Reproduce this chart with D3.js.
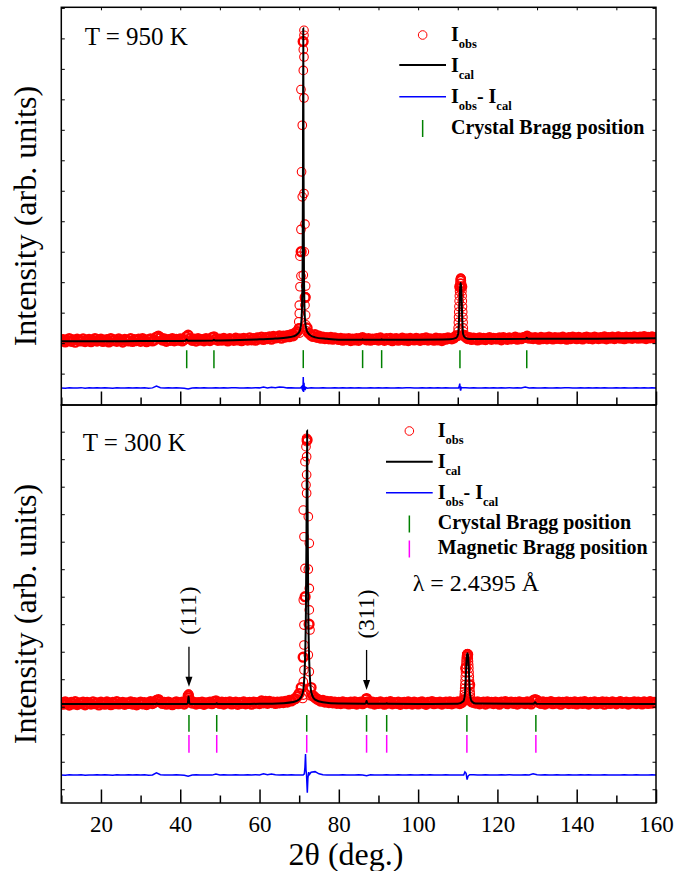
<!DOCTYPE html>
<html>
<head>
<meta charset="utf-8">
<script src="https://cdn.jsdelivr.net/npm/d3@7"></script>
<style>
  body { margin: 0; background: #fff; }
  text { font-family: "Liberation Serif", "Times New Roman", serif; }
</style>
</head>
<body>
<svg id="chart" width="676" height="871"></svg>
<script>
// ---- data (intensity in arbitrary counts) ----
const bgStep = 0.5; // observed background listed every 0.5 deg from 10 to 160

// T = 950 K
const obsBg950 = [
  80,120,40,95,150,60,110,30,130,85,70,140,50,100,125,45,90,150,65,105,
  135,55,95,120,40,150,80,110,60,140,90,35,125,100,70,145,55,115,85,130,
  60,150,95,45,120,140,70,105,200,230,180,100,140,60,115,90,150,75,125,95,
  140,70,120,210,260,150,90,135,65,145,100,120,75,150,110,85,180,210,130,90,
  130,95,155,110,70,145,120,90,165,105,140,80,160,125,100,175,110,150,95,170,
  140,200,120,185,150,210,130,220,170,190,240,160,230,200,250,210,280,240,330,380,
  480,3000,9900,1500,500,320,260,220,280,190,230,160,200,150,180,140,190,130,170,150,
  120,160,95,140,115,150,85,130,105,145,90,155,180,140,110,150,95,135,120,150,
  100,170,120,90,145,115,160,80,135,150,95,125,165,100,140,85,155,120,105,160,
  130,90,150,115,170,100,140,125,95,165,110,150,85,145,130,175,160,140,170,230,
  250,1850,1850,260,200,150,180,120,165,140,105,175,130,160,115,150,185,125,155,140,
  140,170,110,185,150,125,175,140,160,195,130,165,145,180,190,230,160,175,150,185,
  160,130,190,150,175,140,200,165,135,185,155,170,145,195,160,130,180,150,200,170,
  145,190,165,135,180,200,155,175,140,195,170,150,185,160,205,140,180,165,195,150,
  175,205,160,185,145,200,170,190,155,210,180,160,195,170,215,150,190,175,205,165,
  190
];
const obsPeaks950 = [
  [71.21,10265],[71.21,10100],[71.04,9630],[71.21,9390],[71.04,8950],[70.45,8320],
  [71.21,8045],[70.78,7150],[70.6,5620],[71.21,4910],[70.78,4800],[71.46,3905],
  [70.45,3730],[71.3,2996],[70.2,2855],[71.04,2232],[70.45,2200],[71.63,1872],
  [70.2,1850],[71.63,1520],[70.03,1247],[71.46,1247],[70.03,974],[71.63,920],
  [69.9,700],[71.7,600],[69.95,495],[71.8,400],[70.1,330],
  [110.0,250],[110.05,380],[110.1,500],[110.15,680],[110.2,850],[110.25,1020],[110.3,1200],
  [110.35,1380],[110.4,1550],[110.45,1700],[110.5,1850],[110.55,1960],[110.6,2050],
  [110.65,2100],[110.7,2120],[110.75,2130],[110.8,2120],[110.85,2100],[110.9,2050],
  [110.95,1960],[111.0,1850],[111.05,1700],[111.1,1550],[111.15,1380],[111.2,1200],
  [111.25,1020],[111.3,850],[111.35,680],[111.4,500],[111.45,380],[111.5,250]
];
const cal950 = [
  [10,60],[20,62],[30,66],[34,70],[35,66],[40,72],[41.3,75],[41.6,120],[41.9,76],
  [48.2,85],[48.5,115],[48.8,86],[55,100],[60,125],[64,150],[67,185],[68.5,220],
  [69.5,290],[70.2,420],[70.6,800],[70.85,2200],[70.95,5500],[71.03,10330],[71.11,5500],
  [71.21,2200],[71.45,800],[71.9,420],[72.6,280],[74,190],[77,140],[80,110],
  [85.8,108],[86.0,130],[86.2,108],[90.6,110],[90.8,130],[91.0,110],[100,112],[108,125],
  [109.6,170],[110.1,300],[110.35,900],[110.5,1500],[110.62,1850],[110.73,1970],
  [110.84,1850],[110.96,1500],[111.1,900],[111.35,300],[111.9,170],[113,135],[120,135],
  [127.1,140],[127.4,175],[127.7,142],[140,145],[150,150],[160,157]
];
// difference curve listed every 1 deg from 10 to 160, plus detail around peaks
const diffBg950 = [
  -1470,-1480,-1465,-1475,-1470,-1460,-1478,-1468,-1472,-1462,
  -1475,-1465,-1470,-1480,-1462,-1470,-1476,-1466,-1470,-1460,
  -1472,-1466,-1478,-1468,-1410,-1462,-1474,-1468,-1470,-1464,
  -1470,-1478,-1505,-1472,-1466,-1474,-1468,-1470,-1476,-1462,
  -1470,-1465,-1475,-1468,-1462,-1474,-1470,-1466,-1472,-1460,
  -1468,-1440,-1470,-1445,-1466,-1440,-1450,-1468,-1462,-1470,
  -1478,-1470,-1485,-1465,-1470,-1472,-1466,-1470,-1474,-1468,
  -1470,-1464,-1474,-1468,-1472,-1462,-1476,-1470,-1466,-1472,
  -1468,-1474,-1464,-1470,-1476,-1466,-1472,-1468,-1462,-1470,
  -1474,-1466,-1470,-1462,-1476,-1468,-1472,-1466,-1470,-1474,
  -1470,-1470,-1468,-1472,-1466,-1470,-1476,-1464,-1470,-1468,
  -1474,-1466,-1470,-1462,-1476,-1468,-1472,-1440,-1470,-1466,
  -1470,-1474,-1464,-1470,-1476,-1466,-1472,-1468,-1462,-1470,
  -1474,-1466,-1470,-1462,-1476,-1468,-1472,-1466,-1470,-1474,
  -1468,-1472,-1466,-1470,-1476,-1464,-1470,-1468,-1474,-1466,
  -1470
];
const diffPeaks950 = [
  [70.3,-1472],[70.55,-1440],[70.75,-1500],[70.85,-1380],[70.95,-1560],[71.03,-1110],
  [71.12,-1600],[71.22,-1300],[71.32,-1545],[71.45,-1420],[71.6,-1500],[71.8,-1460],[72.05,-1478],
  [110.2,-1470],[110.4,-1400],[110.5,-1330],[110.62,-1500],[110.72,-1560],[110.9,-1450],[111.2,-1468]
];
const bragg950 = [41.63, 48.5, 71.03, 86.0, 90.8, 110.55, 127.4];

// T = 300 K
const obsBg300 = [
  150,90,175,120,60,160,105,185,80,140,115,170,70,155,130,95,180,110,145,65,
  165,125,90,175,140,75,155,110,185,100,130,160,85,145,120,175,95,150,70,135,
  170,105,150,80,140,185,115,160,230,260,190,120,155,90,170,130,75,145,180,110,
  140,165,95,175,400,240,130,160,95,150,120,170,85,145,130,165,110,190,215,150,
  120,170,95,155,135,180,100,145,165,85,150,125,175,105,140,160,90,170,130,150,
  115,210,140,200,125,195,150,170,120,165,140,180,150,200,170,230,210,260,290,370,
  480,700,1800,4000,9700,3000,700,400,330,280,240,200,230,170,200,150,185,140,170,125,
  160,115,175,130,150,100,165,120,180,95,145,170,110,155,300,180,130,165,95,150,
  120,175,140,90,160,130,185,105,150,125,170,85,145,160,110,180,135,95,165,140,
  100,155,175,120,85,160,140,190,110,150,130,170,95,145,165,120,180,105,155,135,
  175,115,150,250,1400,1900,800,180,160,130,175,105,150,165,95,180,135,155,115,170,
  140,90,165,150,185,110,145,170,125,160,95,180,135,150,115,175,140,100,220,260,
  230,150,120,175,95,160,140,185,110,150,130,170,90,155,145,180,115,160,125,175,
  100,150,170,120,185,135,95,160,145,175,110,150,130,180,90,165,140,120,175,150,
  105,160,185,125,145,170,95,150,135,180,115,165,140,100,175,150,120,185,130,160,
  140
];
const obsPeaks300 = [
  [41.9,200],[41.95,270],[42.0,330],[42.05,420],[42.1,460],[42.15,450],[42.2,380],[42.25,320],[42.3,250],
  [71.88,9760],[71.88,9636],[71.72,9455],[71.88,9090],[71.46,8910],[71.88,8430],
  [71.72,8060],[71.88,7760],[71.04,7150],[72.3,6910],[71.21,6180],[72.55,5940],
  [71.46,5030],[72.3,5000],[72.55,4300],[71.04,3880],[72.55,3520],[71.21,2970],
  [72.72,2790],[71.21,2245],[72.3,1880],[71.21,1335],[72.55,1270],[71.04,910],
  [72.72,610],[71.04,425],[72.8,400],[70.9,300],
  [86.8,180],[86.9,260],[86.95,285],[87.0,300],[87.05,295],[87.1,280],[87.2,200],
  [111.5,200],[111.55,270],[111.6,350],[111.65,450],[111.7,550],[111.75,670],[111.8,800],
  [111.85,950],[111.9,1100],[111.95,1250],[112.0,1400],[112.05,1530],[112.1,1650],
  [112.15,1740],[112.2,1820],[112.25,1870],[112.3,1900],[112.35,1915],[112.4,1920],
  [112.45,1915],[112.5,1900],[112.55,1870],[112.6,1820],[112.65,1740],[112.7,1650],
  [112.75,1530],[112.8,1400],[112.85,1250],[112.9,1100],[112.95,950],[113.0,800],
  [113.05,670],[113.1,550],[113.15,450],[113.2,350],[113.25,270],[113.3,200]
];
const cal300 = [
  [10,100],[33.8,100],[34.1,115],[34.4,100],[41.7,100],[41.9,130],[42.0,230],[42.05,320],
  [42.1,370],[42.15,320],[42.2,230],[42.3,130],[42.6,100],[48.9,100],[49.2,125],[49.5,100],
  [60,105],[66,130],[68.5,170],[70,260],[70.9,500],[71.4,1400],[71.7,3500],[71.85,6500],
  [72.0,10040],[72.15,6500],[72.3,3500],[72.6,1400],[73.1,500],[74,260],[76,160],[80,115],
  [86.6,110],[86.9,150],[87.0,220],[87.1,150],[87.4,110],[91.8,105],[92.1,125],[92.4,105],
  [100,100],[110,110],[111.4,200],[111.8,450],[112.0,1000],[112.15,1500],[112.3,1850],
  [112.45,1940],[112.6,1850],[112.75,1500],[112.9,1000],[113.1,450],[113.5,200],[114.5,120],
  [129.1,105],[129.5,160],[129.9,105],[160,100]
];
const diffBg300 = [
  -2480,-2490,-2475,-2485,-2478,-2470,-2488,-2478,-2482,-2472,
  -2485,-2475,-2480,-2490,-2472,-2480,-2486,-2476,-2480,-2470,
  -2482,-2476,-2488,-2478,-2400,-2472,-2484,-2478,-2480,-2474,
  -2480,-2488,-2525,-2482,-2476,-2484,-2478,-2480,-2486,-2450,
  -2480,-2475,-2485,-2478,-2472,-2484,-2480,-2476,-2482,-2470,
  -2478,-2440,-2470,-2445,-2476,-2480,-2470,-2478,-2472,-2480,
  -2486,-2480,-2480,-2380,-2360,-2440,-2470,-2480,-2484,-2478,
  -2480,-2474,-2484,-2478,-2482,-2472,-2486,-2510,-2476,-2482,
  -2478,-2484,-2474,-2480,-2486,-2476,-2482,-2478,-2472,-2480,
  -2484,-2476,-2480,-2472,-2486,-2478,-2482,-2476,-2480,-2484,
  -2480,-2480,-2478,-2482,-2476,-2480,-2486,-2474,-2480,-2478,
  -2484,-2476,-2480,-2472,-2486,-2478,-2482,-2476,-2480,-2440,
  -2470,-2484,-2474,-2480,-2486,-2476,-2482,-2478,-2472,-2480,
  -2484,-2476,-2480,-2472,-2486,-2478,-2482,-2476,-2480,-2484,
  -2478,-2482,-2476,-2480,-2486,-2474,-2480,-2478,-2484,-2476,
  -2480
];
const diffPeaks300 = [
  [71.0,-2480],[71.3,-2440],[71.45,-2200],[71.6,-1720],[71.72,-2300],[71.85,-2450],
  [71.95,-2800],[72.05,-3130],[72.2,-2600],[72.4,-2380],[72.6,-2460],[73.0,-2380],
  [111.5,-2480],[111.8,-2370],[112.1,-2420],[112.35,-2650],[112.6,-2520],[113.0,-2470]
];
const braggCrystal300 = [42.2, 49.2, 71.9, 87.0, 92.07, 112.3, 129.7];
const braggMagnetic300 = [42.2, 49.2, 71.9, 87.0, 92.07, 112.3, 129.7];

const xMajor = [20, 40, 60, 80, 100, 120, 140, 160];
const xMinor = [10, 30, 50, 70, 90, 110, 130, 150];
const xTop = [20, 30, 40, 50, 60, 70, 80, 90, 100, 110, 120, 130, 140, 150];
const yTicks950 = [-2000, -1000, 0, 1000, 2000, 3000, 4000, 5000, 6000, 7000, 8000, 9000, 10000, 11000];
const yTicks300 = [-3000, -2000, -1000, 0, 1000, 2000, 3000, 4000, 5000, 6000, 7000, 8000, 9000, 10000];

// ---- drawing ----
const svg = d3.select('#chart');
const left = 61.3, right = 656;
const x = d3.scaleLinear().domain([10, 160]).range([left, right]);

const RED = '#ff0000', BLUE = '#0000ff', GREEN = '#008000', MAGENTA = '#ff00ff';

const panels = [
  {
    id: 'p950', top: 7.3, bottom: 405, domain: [-2030, 11020], yTicks: yTicks950,
    obsBg: obsBg950, obsPeaks: obsPeaks950, cal: cal950,
    diffBg: diffBg950, diffPeaks: diffPeaks950,
    bragg: [{ pos: bragg950, color: GREEN, from: -230, to: -820 }],
    title: 'T = 950 K', titleX: 84.7, titleY: 45, labels: false
  },
  {
    id: 'p300', top: 405, bottom: 803, domain: [-3500, 10970], yTicks: yTicks300,
    obsBg: obsBg300, obsPeaks: obsPeaks300, cal: cal300,
    diffBg: diffBg300, diffPeaks: diffPeaks300,
    bragg: [
      { pos: braggCrystal300, color: GREEN, from: -300, to: -908 },
      { pos: braggMagnetic300, color: MAGENTA, from: -1028, to: -1671 }
    ],
    title: 'T = 300 K', titleX: 82.7, titleY: 450.7, labels: true
  }
];

function drawPanel(p) {
  const y = d3.scaleLinear().domain(p.domain).range([p.bottom, p.top]);
  p.y = y;
  const g = svg.append('g');

  svg.append('clipPath').attr('id', 'clip-' + p.id)
    .append('rect')
    .attr('x', left).attr('y', p.top)
    .attr('width', right - left).attr('height', p.bottom - p.top);
  const plot = g.append('g').attr('clip-path', `url(#clip-${p.id})`);

  // observed points: the dense background reads as a solid band, so its rings are heavier
  const bg = p.obsBg.map((v, i) => [10 + i * bgStep, v]);
  plot.append('g').selectAll('circle')
    .data(bg)
    .join('circle')
    .attr('cx', d => x(d[0]))
    .attr('cy', d => y(d[1]))
    .attr('r', 4.4)
    .attr('fill', 'none')
    .attr('stroke', RED)
    .attr('stroke-width', 2.4);
  plot.append('g').selectAll('circle')
    .data(p.obsPeaks)
    .join('circle')
    .attr('cx', d => x(d[0]))
    .attr('cy', d => y(d[1]))
    .attr('r', 4.3)
    .attr('fill', 'none')
    .attr('stroke', RED)
    .attr('stroke-width', 1.1);

  // calculated profile
  plot.append('path')
    .datum(p.cal)
    .attr('d', d3.line().x(d => x(d[0])).y(d => y(d[1])).curve(d3.curveMonotoneX))
    .attr('fill', 'none')
    .attr('stroke', '#000')
    .attr('stroke-width', 2);

  // difference curve
  const grid = p.diffBg.map((v, i) => [10 + i, v])
    .filter(d => !p.diffPeaks.some(q => Math.abs(q[0] - d[0]) < 0.45));
  const diff = grid.concat(p.diffPeaks).sort((a, b) => a[0] - b[0]);
  plot.append('path')
    .datum(diff)
    .attr('d', d3.line().x(d => x(d[0])).y(d => y(d[1])))
    .attr('fill', 'none')
    .attr('stroke', BLUE)
    .attr('stroke-width', 1.5);

  // Bragg positions
  p.bragg.forEach(b => {
    plot.append('g').selectAll('line')
      .data(b.pos)
      .join('line')
      .attr('x1', d => x(d)).attr('x2', d => x(d))
      .attr('y1', y(b.from)).attr('y2', y(b.to))
      .attr('stroke', b.color)
      .attr('stroke-width', 1.5);
  });

  // axes: ticks point inward
  const clean = s => s.call(a => a.select('.domain').remove());
  g.append('g').attr('transform', `translate(0,${p.bottom})`)
    .call(d3.axisBottom(x).tickValues(xMajor).tickSize(-13.5).tickPadding(12.5)
      .tickFormat(p.labels ? d3.format('d') : ''))
    .call(clean)
    .call(a => a.selectAll('line').attr('stroke-width', 1.5))
    .call(a => a.selectAll('text').attr('font-size', 23).attr('font-family', '"Liberation Serif", serif').attr('fill', '#000'));
  g.append('g').attr('transform', `translate(0,${p.bottom})`)
    .call(d3.axisBottom(x).tickValues(xMinor).tickSize(-7.5).tickFormat(''))
    .call(clean)
    .call(a => a.selectAll('line').attr('stroke-width', 1.5));
  if (!p.labels) {
    g.append('g').attr('transform', `translate(0,${p.top})`)
      .call(d3.axisTop(x).tickValues(xTop).tickSize(-3).tickFormat(''))
      .call(clean)
      .call(a => a.selectAll('line').attr('stroke-width', 1));
  }
  g.append('g').attr('transform', `translate(${left},0)`)
    .call(d3.axisLeft(y).tickValues(p.yTicks).tickSize(-3.5).tickFormat(''))
    .call(clean);
  g.append('g').attr('transform', `translate(${right},0)`)
    .call(d3.axisRight(y).tickValues(p.yTicks).tickSize(-3.5).tickFormat(''))
    .call(clean);

  // frame
  g.append('rect')
    .attr('x', left).attr('y', p.top)
    .attr('width', right - left).attr('height', p.bottom - p.top)
    .attr('fill', 'none').attr('stroke', '#000').attr('stroke-width', 1.5);

  // temperature
  g.append('text')
    .attr('x', p.titleX).attr('y', p.titleY)
    .attr('font-size', 25)
    .text(p.title);

  // y label
  g.append('text')
    .attr('transform', `translate(36,${(p.top + p.bottom) / 2 + 10}) rotate(-90)`)
    .attr('text-anchor', 'middle')
    .attr('font-size', 32)
    .text('Intensity (arb. units)');
}

panels.forEach(drawPanel);

// x label
svg.append('text')
  .attr('x', 346).attr('y', 865)
  .attr('text-anchor', 'middle')
  .attr('font-size', 32)
  .text('2θ (deg.)');

// legends
function subLabel(g, tx, ty, parts) {
  const t = g.append('text').attr('x', tx).attr('y', ty)
    .attr('font-weight', 'bold').attr('font-size', 20);
  parts.forEach(([main, sub], i) => {
    t.append('tspan').attr('dy', i === 0 ? 0 : -7).text(main);
    t.append('tspan').attr('font-size', 12.5).attr('dy', 7).text(sub);
  });
}

function legend(cfg) {
  const g = svg.append('g');
  const mid = (cfg.lineX0 + cfg.lineX1) / 2;
  g.append('circle').attr('cx', mid).attr('cy', cfg.rows[0])
    .attr('r', 4.3).attr('fill', 'none').attr('stroke', RED).attr('stroke-width', 1);
  subLabel(g, cfg.textX, cfg.rows[0] + 5.5, [['I', 'obs']]);
  g.append('line').attr('x1', cfg.lineX0).attr('x2', cfg.lineX1)
    .attr('y1', cfg.rows[1]).attr('y2', cfg.rows[1])
    .attr('stroke', '#000').attr('stroke-width', 2);
  subLabel(g, cfg.textX, cfg.rows[1] + 6.5, [['I', 'cal']]);
  g.append('line').attr('x1', cfg.lineX0).attr('x2', cfg.lineX1)
    .attr('y1', cfg.rows[2]).attr('y2', cfg.rows[2])
    .attr('stroke', BLUE).attr('stroke-width', 1.5);
  subLabel(g, cfg.textX, cfg.rows[2] + 6.5, [['I', 'obs'], ['- I', 'cal']]);
  cfg.ticks.forEach(tk => {
    g.append('line').attr('x1', mid).attr('x2', mid)
      .attr('y1', tk.y - 8.5).attr('y2', tk.y + 8.5)
      .attr('stroke', tk.color).attr('stroke-width', 1.5);
    g.append('text').attr('x', cfg.textX).attr('y', tk.y + 5)
      .attr('font-weight', 'bold').attr('font-size', 20)
      .text(tk.label);
  });
}

legend({
  lineX0: 399.3, lineX1: 446, textX: 451,
  rows: [35, 65, 96.7],
  ticks: [{ y: 128.5, color: GREEN, label: 'Crystal Bragg position' }]
});
legend({
  lineX0: 386, lineX1: 432.7, textX: 437.7,
  rows: [431, 461.7, 492.7],
  ticks: [
    { y: 524, color: GREEN, label: 'Crystal Bragg position' },
    { y: 549, color: MAGENTA, label: 'Magnetic Bragg position' }
  ]
});

svg.append('text')
  .attr('x', 412.7).attr('y', 590.7)
  .attr('font-size', 24)
  .text('λ = 2.4395 Å');

// peak annotations in the 300 K panel
const annotations = [
  { label: '(111)', pos: 42.2, tip: 730 },
  { label: '(311)', pos: 87.0, tip: 610 }
];
const yLow = panels[1].y;
annotations.forEach(a => {
  const ax = x(a.pos), ty = yLow(a.tip);
  svg.append('line').attr('x1', ax).attr('x2', ax)
    .attr('y1', ty - 40).attr('y2', ty - 8)
    .attr('stroke', '#000').attr('stroke-width', 1.3);
  svg.append('polygon')
    .attr('points', [[ax, ty], [ax - 3.5, ty - 10], [ax + 3.5, ty - 10]].map(p => p.join(',')).join(' '))
    .attr('fill', '#000');
  svg.append('text')
    .attr('transform', `translate(${ax + 7},${ty - 76}) rotate(-90)`)
    .attr('text-anchor', 'middle')
    .attr('font-size', 23)
    .text(a.label);
});
</script>
</body>
</html>
